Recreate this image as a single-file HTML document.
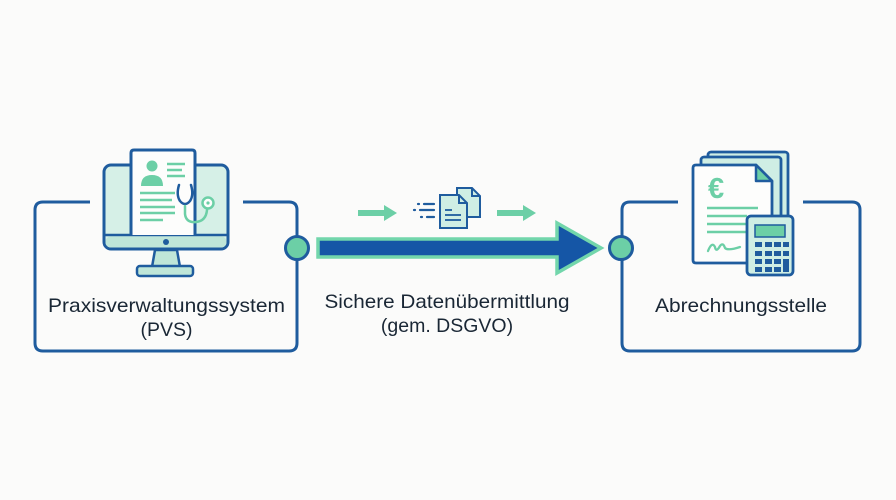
<!DOCTYPE html>
<html><head><meta charset="utf-8"><style>
html,body{margin:0;padding:0;background:#fbfbfa;}
svg{display:block;}
text{font-family:"Liberation Sans",Arial,sans-serif;fill:#1a2735;}
</style></head><body>
<svg width="896" height="500" viewBox="0 0 896 500" xmlns="http://www.w3.org/2000/svg">
<rect width="896" height="500" fill="#fbfbfa"/>
<!-- Left box -->
<path d="M90 202 H43 Q35 202 35 210 V343 Q35 351 43 351 H289 Q297 351 297 343 V210 Q297 202 289 202 H243" fill="none" stroke="#1f5c9e" stroke-width="3"/>
<!-- Right box -->
<path d="M678 202 H630 Q622 202 622 210 V343 Q622 351 630 351 H852 Q860 351 860 343 V210 Q860 202 852 202 H803" fill="none" stroke="#1f5c9e" stroke-width="3"/>
<!-- connector circles -->
<circle cx="297" cy="248" r="11.5" fill="#6ccfa6" stroke="#1f5c9e" stroke-width="3"/>
<circle cx="621" cy="248" r="11.5" fill="#6ccfa6" stroke="#1f5c9e" stroke-width="3"/>
<!-- Big arrow -->
<path d="M318 239 H557 V223 L601 248 L557 273 V257 H318 Z" fill="#1556a6" stroke="#72d6ab" stroke-width="3.5" stroke-linejoin="miter"/>
<!-- small arrows -->
<g fill="#6ccfa6">
<path d="M358 210 H384 V205 L397 213 L384 221 V216 H358 Z"/>
<path d="M497 210 H523 V205 L536 213 L523 221 V216 H497 Z"/>
</g>
<!-- speed lines -->
<g stroke="#1f5c9e" stroke-width="2.2" stroke-linecap="round">
<line x1="418" y1="204" x2="419" y2="204"/><line x1="424" y1="204" x2="434" y2="204"/>
<line x1="414" y1="210" x2="415" y2="210"/><line x1="420" y1="210" x2="434" y2="210"/>
<line x1="421" y1="217" x2="422" y2="217"/><line x1="427" y1="217" x2="434" y2="217"/>
</g>
<!-- docs -->
<path d="M457 188 H472 L480 196 V217 H457 Z" fill="#cfeee4" stroke="#1f5c9e" stroke-width="2"/>
<path d="M472 188 V196 H480" fill="none" stroke="#1f5c9e" stroke-width="2"/>
<path d="M440 195 H459 L467 203 V228 H440 Z" fill="#cfeee4" stroke="#1f5c9e" stroke-width="2"/>
<path d="M459 195 V203 H467" fill="none" stroke="#1f5c9e" stroke-width="2"/>
<g stroke="#1f5c9e" stroke-width="1.8"><line x1="445" y1="210" x2="452" y2="210"/><line x1="445" y1="215" x2="461" y2="215"/><line x1="445" y1="220" x2="461" y2="220"/></g>

<!-- Monitor icon -->
<rect x="104" y="165" width="124" height="84" rx="7" fill="#d6f0e7" stroke="#1f5c9e" stroke-width="3"/>
<line x1="104" y1="235" x2="228" y2="235" stroke="#1f5c9e" stroke-width="2.5"/>
<rect x="105.5" y="236.5" width="121" height="11" rx="5" fill="#bfe6d8"/>
<circle cx="166" cy="242" r="3" fill="#1f5c9e"/>
<path d="M155 250 H177 L180 267 H152 Z" fill="#bfe6d8" stroke="#1f5c9e" stroke-width="2.5" stroke-linejoin="round"/>
<rect x="137" y="266" width="56" height="10" rx="3" fill="#bfe6d8" stroke="#1f5c9e" stroke-width="2.5"/>
<!-- document -->
<path d="M131 235 V153 Q131 150 134 150 H192 Q195 150 195 153 V235" fill="#fdfdfc" stroke="#1f5c9e" stroke-width="3"/>
<circle cx="152" cy="166" r="5.5" fill="#6ccfa6"/>
<path d="M141 186 Q141 175 152 175 Q163 175 163 186 Z" fill="#6ccfa6"/>
<g stroke="#6ccfa6" stroke-width="2.5">
<line x1="167" y1="164" x2="185" y2="164"/><line x1="167" y1="170" x2="182" y2="170"/><line x1="167" y1="176" x2="185" y2="176"/>
<line x1="140" y1="193" x2="175" y2="193"/><line x1="140" y1="200" x2="172" y2="200"/><line x1="140" y1="207" x2="175" y2="207"/><line x1="140" y1="213" x2="175" y2="213"/><line x1="140" y1="220" x2="163" y2="220"/>
</g>
<!-- stethoscope -->
<path d="M179 185 Q176 195 180 201 Q185 207 190 201 Q194 195 191 185" fill="none" stroke="#1f5c9e" stroke-width="2.5" stroke-linecap="round"/>
<path d="M185 206 V214 Q186 223 196 222 Q206 221 207 210" fill="none" stroke="#6ccfa6" stroke-width="2.5" stroke-linecap="round"/>
<circle cx="208" cy="203" r="5.5" fill="#fdfdfc" stroke="#6ccfa6" stroke-width="2.5"/>
<circle cx="208" cy="203" r="1.6" fill="#6ccfa6"/>

<!-- Invoice / calculator icon -->
<rect x="708" y="152" width="80" height="80" rx="3" fill="#cfeee4" stroke="#1f5c9e" stroke-width="2.8"/>
<rect x="701" y="157" width="80" height="80" rx="3" fill="#cfeee4" stroke="#1f5c9e" stroke-width="2.8"/>
<path d="M693 168 Q693 165 696 165 H756 L772 181 V260 Q772 263 769 263 H696 Q693 263 693 260 Z" fill="#fdfdfc" stroke="#1f5c9e" stroke-width="2.8" stroke-linejoin="round"/>
<path d="M756 165 V181 H772 Z" fill="#6ccfa6" stroke="#1f5c9e" stroke-width="2.5" stroke-linejoin="round"/>
<text x="708" y="198" style="font-size:29px;font-weight:bold;fill:#6ccfa6">€</text>
<g stroke="#6ccfa6" stroke-width="2.5">
<line x1="707" y1="208" x2="758" y2="208"/><line x1="707" y1="216" x2="747" y2="216"/><line x1="707" y1="224" x2="747" y2="224"/><line x1="707" y1="232" x2="747" y2="232"/>
</g>
<path d="M708 251 Q712 241 715 247 Q716 253 720 246 Q723 242 725 248 Q728 251 740 247" fill="none" stroke="#6ccfa6" stroke-width="2.3" stroke-linecap="round"/>
<rect x="747" y="216" width="46" height="59" rx="4" fill="#cfeee4" stroke="#1f5c9e" stroke-width="2.8"/>
<rect x="755" y="225" width="30" height="12" fill="#6ccfa6" stroke="#1f5c9e" stroke-width="1.5"/>
<g fill="#1f5c9e">
<rect x="755" y="242" width="7" height="5"/><rect x="765" y="242" width="7" height="5"/><rect x="774" y="242" width="7" height="5"/><rect x="783" y="242" width="6" height="5"/>
<rect x="755" y="251" width="7" height="5"/><rect x="765" y="251" width="7" height="5"/><rect x="774" y="251" width="7" height="5"/><rect x="783" y="251" width="6" height="5"/>
<rect x="755" y="259" width="7" height="5"/><rect x="765" y="259" width="7" height="5"/><rect x="774" y="259" width="7" height="5"/><rect x="783" y="259" width="6" height="13"/>
<rect x="755" y="267" width="7" height="5"/><rect x="765" y="267" width="7" height="5"/><rect x="774" y="267" width="7" height="5"/>
</g>

<!-- Labels -->
<text x="166.5" y="312" text-anchor="middle" style="font-size:19.5px" textLength="237" lengthAdjust="spacingAndGlyphs">Praxisverwaltungssystem</text>
<text x="166.5" y="336" text-anchor="middle" style="font-size:19.5px">(PVS)</text>
<text x="447" y="308" text-anchor="middle" style="font-size:19.5px" textLength="245" lengthAdjust="spacingAndGlyphs">Sichere Datenübermittlung</text>
<text x="447" y="332" text-anchor="middle" style="font-size:19.5px">(gem. DSGVO)</text>
<text x="741" y="312" text-anchor="middle" style="font-size:19.5px" textLength="172" lengthAdjust="spacingAndGlyphs">Abrechnungsstelle</text>
</svg>
</body></html>
